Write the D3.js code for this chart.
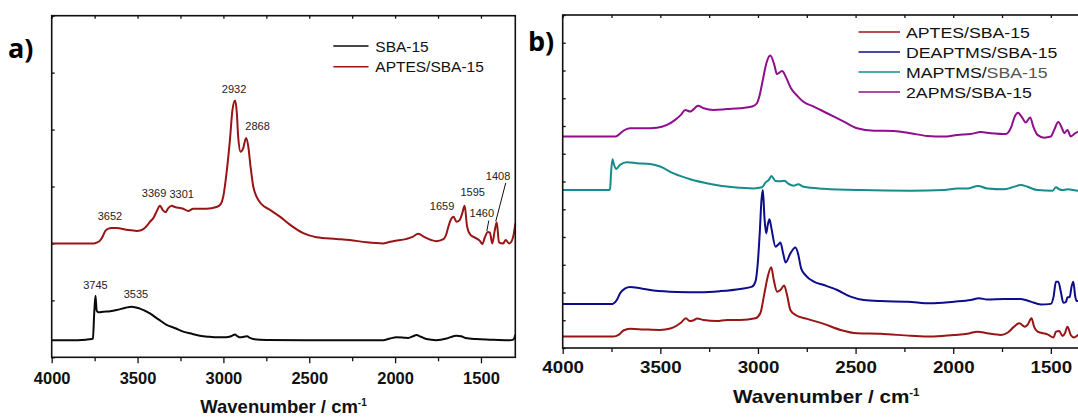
<!DOCTYPE html>
<html>
<head>
<meta charset="utf-8">
<script src="https://d3js.org/d3.v7.min.js"></script>
<style>
  html, body { margin: 0; padding: 0; background: #fff; overflow: hidden; }
  svg { display: block; }
  .frame { fill: none; stroke: #111; stroke-width: 1.6; }
  .axis path.domain { display: none; }
  .axis line { stroke: #111; stroke-width: 1.3; }
  .axis text { font-family: "Liberation Sans", Arial, sans-serif; font-weight: bold; fill: #111; }
  .spectrum { fill: none; stroke-width: 2; stroke-linejoin: round; stroke-linecap: round; }
</style>
</head>
<body>
<svg id="chart" width="1078" height="417"></svg>
<script>
// ---------- FTIR spectra, intensities in arbitrary units (offset per trace) ----------
// Each entry: [wavenumber (cm-1), intensity]

// Panel a
const sba15A = [
  [4000,0.30],[3900,0.30],[3800,0.31],[3767,0.32],[3760,0.33],[3752,0.80],[3745,1.08],
  [3738,0.82],[3728,0.79],[3700,0.80],[3660,0.81],[3622,0.83],[3570,0.87],[3535,0.89],
  [3490,0.86],[3428,0.77],[3380,0.67],[3331,0.57],[3280,0.51],[3234,0.45],[3180,0.41],
  [3137,0.38],[3080,0.36],[3040,0.35],[3001,0.35],[2965,0.36],[2948,0.38],[2933,0.40],
  [2918,0.37],[2904,0.35],[2880,0.36],[2862,0.37],[2845,0.34],[2826,0.32],[2750,0.305],
  [2500,0.30],[2200,0.30],[2070,0.30],[2030,0.33],[1992,0.35],[1950,0.345],[1924,0.34],
  [1895,0.37],[1876,0.39],[1850,0.36],[1818,0.32],[1760,0.30],[1700,0.33],[1660,0.37],
  [1643,0.38],[1615,0.37],[1590,0.34],[1527,0.32],[1450,0.31],[1333,0.30],[1312,0.31],
  [1300,0.39]
];

const aptesA = [
  [4000,2.00],[3900,2.00],[3800,2.00],[3757,2.00],[3735,2.02],[3719,2.05],[3700,2.14],
  [3690,2.21],[3670,2.26],[3652,2.27],[3622,2.27],[3564,2.24],[3505,2.22],[3480,2.23],
  [3467,2.25],[3440,2.33],[3428,2.38],[3409,2.44],[3389,2.56],[3369,2.66],[3354,2.59],
  [3337,2.55],[3321,2.62],[3301,2.66],[3283,2.64],[3234,2.61],[3205,2.57],[3176,2.61],
  [3147,2.61],[3098,2.61],[3040,2.64],[3016,2.69],[3001,2.82],[2982,3.23],[2962,3.82],
  [2947,4.35],[2932,4.51],[2922,4.30],[2914,3.88],[2900,3.61],[2885,3.67],[2868,3.85],
  [2855,3.70],[2842,3.35],[2826,3.00],[2807,2.82],[2778,2.69],[2729,2.59],[2671,2.47],
  [2613,2.33],[2535,2.18],[2458,2.11],[2341,2.08],[2264,2.06],[2167,2.02],[2070,2.00],
  [2040,2.02],[2012,2.04],[1934,2.08],[1895,2.12],[1866,2.17],[1828,2.11],[1790,2.06],
  [1760,2.04],[1721,2.07],[1700,2.18],[1692,2.27],[1675,2.42],[1659,2.47],[1643,2.38],
  [1624,2.41],[1610,2.52],[1595,2.66],[1581,2.30],[1561,2.15],[1527,2.09],[1505,2.04],
  [1492,1.99],[1478,2.10],[1460,2.20],[1448,2.19],[1434,2.00],[1420,2.22],[1408,2.37],
  [1395,2.02],[1371,2.00],[1356,2.06],[1336,2.00],[1323,2.03],[1310,2.15],[1300,2.34]
];

// Peak positions marked in panel a
const peakLabelsA = [
  { wn: 3652, v: 2.27, text: "3652" },
  { wn: 3369, v: 2.66, text: "3369" },
  { wn: 3301, v: 2.66, text: "3301" },
  { wn: 2932, v: 4.51, text: "2932" },
  { wn: 2868, v: 3.85, text: "2868" },
  { wn: 1659, v: 2.47, text: "1659" },
  { wn: 1595, v: 2.66, text: "1595" },
  { wn: 1460, v: 2.20, text: "1460" },
  { wn: 1408, v: 2.37, text: "1408" },
  { wn: 3745, v: 1.08, text: "3745" },
  { wn: 3535, v: 0.89, text: "3535" }
];

// Panel b
const aptesB = [
  [4000,0.41],[3900,0.41],[3800,0.41],[3740,0.41],[3714,0.47],[3689,0.63],[3655,0.69],
  [3586,0.67],[3501,0.65],[3449,0.70],[3415,0.81],[3395,0.91],[3369,1.07],[3350,0.97],
  [3333,0.99],[3311,1.06],[3278,1.01],[3210,0.97],[3159,1.01],[3090,1.01],[3013,1.07],
  [2988,1.25],[2967,1.97],[2950,2.57],[2932,2.91],[2919,2.45],[2902,2.03],[2885,2.09],
  [2866,2.25],[2851,1.91],[2834,1.37],[2808,1.19],[2748,1.05],[2663,0.87],[2577,0.65],
  [2492,0.53],[2372,0.51],[2218,0.44],[2116,0.41],[1996,0.47],[1928,0.51],[1876,0.59],
  [1825,0.53],[1756,0.47],[1722,0.55],[1688,0.77],[1662,0.89],[1633,0.77],[1620,0.83],
  [1599,1.07],[1586,0.77],[1568,0.59],[1517,0.49],[1486,0.38],[1474,0.59],[1457,0.61],
  [1440,0.43],[1428,0.53],[1415,0.77],[1398,0.47],[1381,0.38],[1357,0.47],[1330,0.45]
];

const deaptmsB = [
  [4000,1.59],[3900,1.59],[3800,1.59],[3745,1.59],[3735,1.63],[3723,1.73],[3706,1.97],
  [3680,2.15],[3655,2.20],[3603,2.15],[3535,2.07],[3415,2.02],[3295,2.01],[3193,2.05],
  [3090,2.13],[3030,2.21],[3013,2.39],[3001,3.05],[2991,4.13],[2982,5.33],[2975,5.69],
  [2967,4.73],[2958,4.13],[2950,4.43],[2941,4.64],[2931,4.31],[2910,3.65],[2893,3.75],
  [2885,3.80],[2871,3.41],[2858,3.08],[2834,3.41],[2808,3.62],[2795,3.41],[2779,2.87],
  [2757,2.63],[2714,2.39],[2663,2.27],[2594,2.09],[2526,1.85],[2458,1.73],[2372,1.69],
  [2235,1.67],[2116,1.61],[1996,1.67],[1910,1.73],[1868,1.79],[1825,1.75],[1739,1.77],
  [1654,1.77],[1603,1.67],[1551,1.57],[1500,1.59],[1486,1.85],[1474,2.39],[1462,2.39],
  [1449,2.03],[1436,1.63],[1422,1.67],[1415,1.83],[1404,1.83],[1394,2.21],[1385,2.39],
  [1375,1.85],[1367,1.69],[1357,1.69],[1330,1.69]
];

const maptmsB = [
  [4000,5.69],[3900,5.69],[3800,5.69],[3760,5.69],[3757,5.75],[3752,6.35],[3745,6.80],
  [3737,6.60],[3726,6.45],[3706,6.60],[3672,6.69],[3620,6.66],[3552,6.63],[3501,6.54],
  [3432,6.29],[3347,6.08],[3244,5.91],[3124,5.79],[3022,5.75],[2979,5.79],[2962,5.96],
  [2945,6.05],[2931,6.20],[2910,6.02],[2885,6.01],[2865,6.03],[2842,5.91],[2816,5.85],
  [2794,5.90],[2765,5.81],[2663,5.74],[2475,5.69],[2218,5.67],[2047,5.69],[1979,5.75],
  [1928,5.75],[1873,5.84],[1825,5.75],[1739,5.72],[1697,5.79],[1654,5.87],[1620,5.81],
  [1568,5.69],[1491,5.67],[1474,5.79],[1457,5.72],[1440,5.69],[1415,5.72],[1357,5.67],
  [1330,5.67]
];

const apmsB = [
  [4000,7.62],[3900,7.62],[3800,7.62],[3730,7.62],[3714,7.68],[3689,7.83],[3655,7.92],
  [3586,7.92],[3518,7.94],[3466,8.04],[3424,8.22],[3395,8.40],[3372,8.58],[3347,8.52],
  [3330,8.60],[3307,8.73],[3278,8.64],[3227,8.58],[3159,8.61],[3090,8.64],[3030,8.70],
  [3005,8.82],[2993,9.06],[2975,9.66],[2957,10.26],[2937,10.54],[2916,10.20],[2903,9.87],
  [2876,9.98],[2858,9.78],[2831,9.36],[2795,9.06],[2769,8.88],[2714,8.70],[2646,8.46],
  [2560,8.16],[2492,7.92],[2406,7.83],[2304,7.82],[2218,7.74],[2133,7.64],[2047,7.62],
  [1979,7.68],[1910,7.71],[1859,7.78],[1808,7.74],[1731,7.71],[1702,7.98],[1685,8.34],
  [1668,8.48],[1645,8.28],[1629,8.13],[1606,8.31],[1590,7.98],[1568,7.68],[1534,7.58],
  [1500,7.62],[1483,7.86],[1462,8.14],[1443,7.92],[1431,7.74],[1415,7.86],[1398,7.62],
  [1381,7.71],[1357,7.80],[1330,7.76]
];

// Axis ticks (cm-1)
const majorTicks = [4000, 3500, 3000, 2500, 2000, 1500];
const minorTicks = [3750, 3250, 2750, 2250, 1750];
const allTicks = [4000, 3750, 3500, 3250, 3000, 2750, 2500, 2250, 2000, 1750, 1500];

// Series names and colours
const seriesA = [
  { name: "SBA-15", color: "#0a0a0a", data: sba15A },
  { name: "APTES/SBA-15", color: "#991414", data: aptesA }
];
const seriesB = [
  { name: "APTES/SBA-15", color: "#991414", data: aptesB },
  { name: "DEAPTMS/SBA-15", color: "#0c0c8c", data: deaptmsB },
  { name: "MAPTMS/SBA-15", color: "#148c8c", data: maptmsB },
  { name: "2APMS/SBA-15", color: "#8e0e8e", data: apmsB }
];

const svg = d3.select("#chart");
const FONT = '"Liberation Sans", Arial, sans-serif';

function drawPanel(p) {
  const g = svg.append("g");
  const x = d3.scaleLinear().domain([4000, 1300]).range([p.left, p.right]);
  const y = d3.scaleLinear().domain(p.yDomain).range([p.bottom, p.top]);

  const clipId = "clip-" + p.id;
  svg.append("clipPath").attr("id", clipId)
    .append("rect").attr("x", p.left).attr("y", p.top)
    .attr("width", p.right - p.left).attr("height", p.bottom - p.top);

  // bottom axis: labelled major ticks + shorter minor ticks
  const bottomAxis = g.append("g").attr("class", "axis")
    .attr("transform", `translate(0,${p.bottom})`)
    .call(d3.axisBottom(x).tickValues(majorTicks).tickSize(6).tickSizeOuter(0)
      .tickPadding(p.tickPad).tickFormat(d3.format("d")));
  bottomAxis.selectAll("text")
    .style("font-size", p.tickFont + "px")
    .attr("transform", `scale(${p.sx},1)`);
  g.append("g").attr("class", "axis")
    .attr("transform", `translate(0,${p.bottom})`)
    .call(d3.axisBottom(x).tickValues(minorTicks).tickSize(4).tickSizeOuter(0).tickFormat(""));

  // top axis, inward ticks
  g.append("g").attr("class", "axis")
    .attr("transform", `translate(0,${p.top})`)
    .call(d3.axisTop(x).tickValues(allTicks).tickSize(-3).tickSizeOuter(0).tickFormat(""));

  // left axis, inward ticks, no labels
  g.append("g").attr("class", "axis")
    .attr("transform", `translate(${p.left},0)`)
    .call(d3.axisLeft(y).ticks(p.yDomain[1]).tickSize(-3).tickSizeOuter(0).tickFormat(""));

  // spectra
  const line = d3.line()
    .x(d => x(d[0])).y(d => y(d[1]))
    .curve(d3.curveMonotoneX);
  g.append("g").attr("clip-path", `url(#${clipId})`)
    .selectAll("path").data(p.series).join("path")
    .attr("class", "spectrum")
    .attr("stroke", d => d.color)
    .attr("d", d => line(d.data));

  // frame
  g.append("rect").attr("class", "frame")
    .attr("x", p.left).attr("y", p.top)
    .attr("width", p.right - p.left).attr("height", p.bottom - p.top);

  // x-axis title
  const title = g.append("text")
    .attr("transform", `translate(${(p.left + p.right) / 2},${p.titleY}) scale(${p.sx},1)`)
    .attr("text-anchor", "middle")
    .style("font-family", FONT).style("font-weight", "bold")
    .style("font-size", p.titleFont + "px").style("fill", "#111");
  title.append("tspan").text("Wavenumber / cm");
  title.append("tspan").attr("dy", -7).style("font-size", "10px").text("-1");

  // panel letter
  g.append("text")
    .attr("x", p.letterX).attr("y", p.letterY)
    .style("font-family", '"Open Sans", "Liberation Sans", sans-serif')
    .style("font-weight", "bold").style("font-size", "27px").style("fill", "#000")
    .text(p.letter);

  // legend
  const lg = g.append("g");
  p.series.forEach((s, i) => {
    const idx = p.legendOrder ? p.legendOrder.indexOf(s.name) : i;
    const cy = p.legend.y0 + idx * p.legend.dy;
    lg.append("line")
      .attr("x1", p.legend.x1).attr("x2", p.legend.x2)
      .attr("y1", cy).attr("y2", cy)
      .attr("stroke", s.color).attr("stroke-width", 1.6);
    const t = lg.append("text")
      .attr("transform", `translate(${p.legend.tx},${cy + p.legend.font * 0.36}) scale(${p.sx},1)`)
      .style("font-family", FONT).style("font-size", p.legend.font + "px").style("fill", "#111");
    if (s.name === "MAPTMS/SBA-15") {
      t.append("tspan").text("MAPTMS/");
      t.append("tspan").style("fill", "#555").text("SBA-15");
    } else {
      t.text(s.name);
    }
  });

  return { g, x, y };
}

// ---------- panel a ----------
const panelA = drawPanel({
  id: "a", letter: "a)", letterX: 8, letterY: 58,
  left: 51.7, right: 515.3, top: 15.7, bottom: 357.3, yDomain: [0, 6],
  sx: 1, tickFont: 16.5, tickPad: 8.5, titleFont: 18.5, titleY: 413,
  series: seriesA, legendOrder: ["SBA-15", "APTES/SBA-15"],
  legend: { x1: 333.3, x2: 368.5, tx: 375.3, y0: 46, dy: 20.7, font: 15.5 }
});

// peak annotations (offsets from the peak top, in px)
const labelOffsets = {
  "3652": [-1.5, -8], "3369": [-6, -8.7], "3301": [10, -8], "2932": [-1, -8],
  "2868": [11.5, -8], "1659": [-11.6, -7], "1595": [8, -10], "1460": [-6, -15],
  "1408": [1.3, -42], "3745": [0, -7], "3535": [4.4, -8.4]
};
const leaderLines = { "1460": [1, -11.5], "1408": [9, -39.5] };

const ann = panelA.g.append("g");
peakLabelsA.forEach(pk => {
  const px = panelA.x(pk.wn), py = panelA.y(pk.v);
  const off = labelOffsets[pk.text];
  ann.append("text")
    .attr("x", px + off[0]).attr("y", py + off[1])
    .attr("text-anchor", "middle")
    .style("font-family", FONT).style("font-size", "11px").style("fill", "#222")
    .text(pk.text);
  if (leaderLines[pk.text]) {
    const l = leaderLines[pk.text];
    ann.append("line")
      .attr("x1", px + l[0]).attr("y1", py + l[1])
      .attr("x2", px - 1).attr("y2", py - 1)
      .attr("stroke", "#111").attr("stroke-width", 1);
  }
});

// ---------- panel b ----------
drawPanel({
  id: "b", letter: "b)", letterX: 528, letterY: 51,
  left: 562.7, right: 1089.9, top: 15, bottom: 348, yDomain: [0, 12],
  sx: 1.15, tickFont: 16.3, tickPad: 7.3, titleFont: 18, titleY: 403,
  series: seriesB, legendOrder: ["APTES/SBA-15", "DEAPTMS/SBA-15", "MAPTMS/SBA-15", "2APMS/SBA-15"],
  legend: { x1: 858.5, x2: 900, tx: 906, y0: 32, dy: 20, font: 15.4 }
});
</script>
</body>
</html>
